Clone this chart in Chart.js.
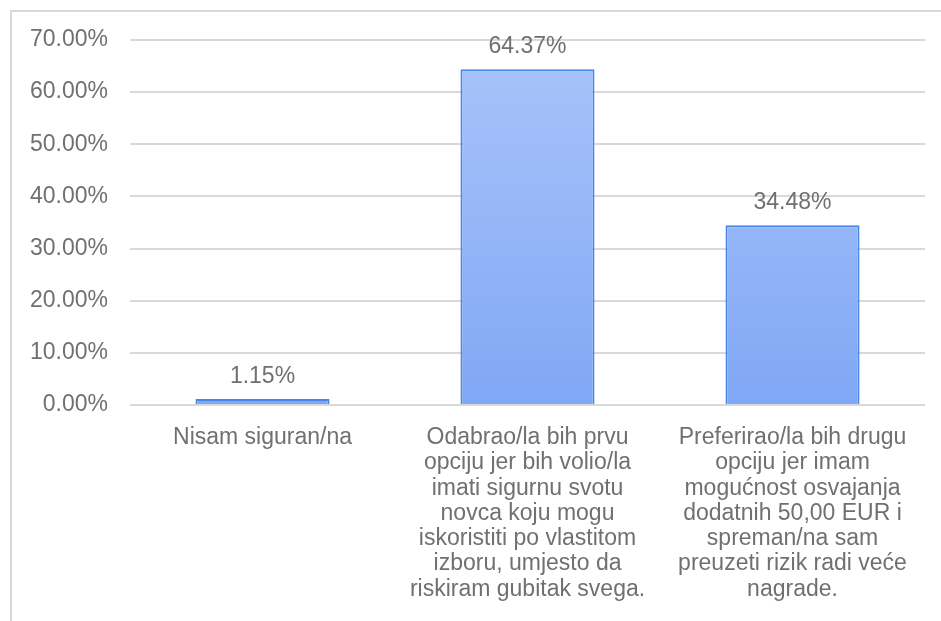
<!DOCTYPE html>
<html>
<head>
<meta charset="utf-8">
<script src="https://cdn.jsdelivr.net/npm/chart.js@4"></script>
<style>
  html,body{margin:0;padding:0;background:#fff;}
  #wrap{position:relative;width:941px;height:621px;overflow:hidden;}
  #frame{position:absolute;left:10px;top:10px;width:960px;height:640px;border:2px solid #d9d9d9;box-sizing:border-box;}
  canvas{position:absolute;left:0;top:0;}
</style>
</head>
<body>
<div id="wrap">
  <div id="frame"></div>
  <canvas id="c" width="941" height="621"></canvas>
</div>
<script>
// kategorije (odgovori)
const categories = [
  ['Nisam siguran/na'],
  ['Odabrao/la bih prvu','opciju jer bih volio/la','imati sigurnu svotu','novca koju mogu','iskoristiti po vlastitom','izboru, umjesto da','riskiram gubitak svega.'],
  ['Preferirao/la bih drugu','opciju jer imam','mogućnost osvajanja','dodatnih 50,00 EUR i','spreman/na sam','preuzeti rizik radi veće','nagrade.']
];
const shares = [0.0115, 0.6437, 0.3448];
const yTicks = [0, 0.1, 0.2, 0.3, 0.4, 0.5, 0.6, 0.7];

const textColor = '#707070';
const font = "'Liberation Sans', Arial, sans-serif";
const fontSize = 23;

// oznake vrijednosti iznad stupaca
const valueLabels = {
  id: 'valueLabels',
  afterDatasetsDraw(chart){
    const ctx = chart.ctx;
    const meta = chart.getDatasetMeta(0);
    ctx.save();
    ctx.font = fontSize + 'px ' + font;
    ctx.fillStyle = textColor;
    ctx.textAlign = 'center';
    ctx.textBaseline = 'alphabetic';
    meta.data.forEach((bar, i) => {
      ctx.fillText((shares[i]*100).toFixed(2) + '%', bar.x, bar.y - 16);
    });
    ctx.restore();
  }
};

function barGradient(context){
  const ca = context.chart.chartArea;
  if(!ca) return '#9ab8f8';
  const g = context.chart.ctx.createLinearGradient(0, ca.top, 0, ca.bottom);
  g.addColorStop(0, '#aac4fa');
  g.addColorStop(1, '#80a7f5');
  return g;
}

new Chart(document.getElementById('c'), {
  type: 'bar',
  data: {
    labels: categories,
    datasets: [{
      data: shares,
      backgroundColor: barGradient,
      borderColor: '#4a86e8',
      borderWidth: 2,
      borderSkipped: 'bottom',
      categoryPercentage: 1,
      barPercentage: 0.506
    }]
  },
  plugins: [valueLabels],
  options: {
    responsive: false,
    animation: false,
    events: [],
    layout: { padding: { top: 40, right: 16, left: 10, bottom: 0 } },
    plugins: { legend: { display: false }, tooltip: { enabled: false } },
    scales: {
      x: {
        grid: { display: false, drawTicks: false },
        border: { display: false },
        ticks: {
          color: textColor,
          font: { family: font, size: fontSize, lineHeight: '25.3px' },
          padding: 20,
          maxRotation: 0,
          autoSkip: false
        },
        afterFit(scale){ scale.height = 216; }
      },
      y: {
        min: 0,
        max: 0.7,
        afterBuildTicks(scale){ scale.ticks = yTicks.map(v => ({ value: v })); },
        grid: { color: '#d9d9d9', lineWidth: 2, drawTicks: false },
        border: { display: false },
        ticks: {
          color: textColor,
          font: { family: font, size: fontSize },
          padding: 22,
          callback: v => (v*100).toFixed(2) + '%'
        },
        afterFit(scale){ scale.width = 120; }
      }
    }
  }
});
</script>
</body>
</html>
